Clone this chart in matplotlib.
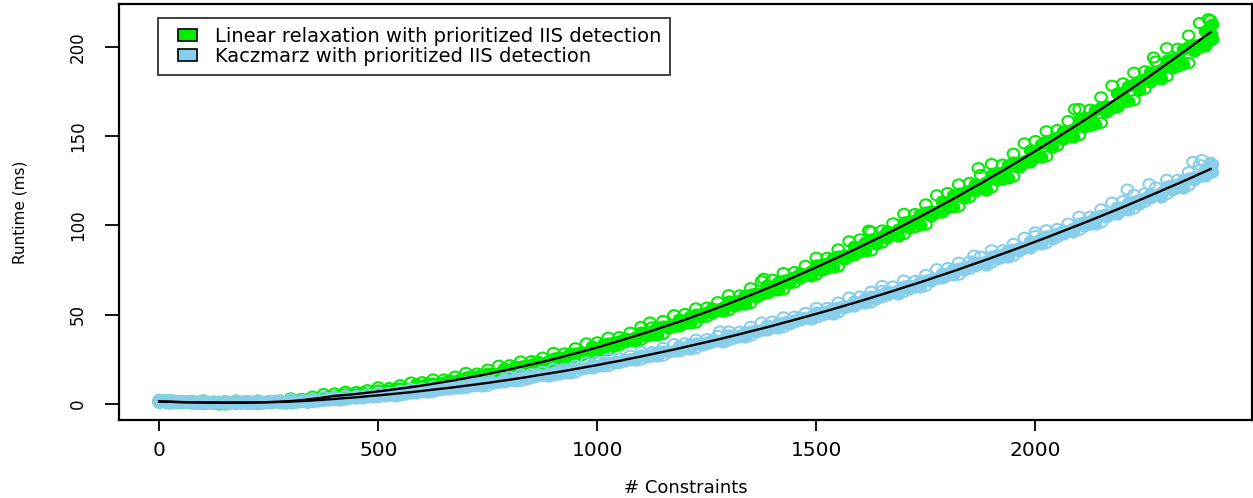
import matplotlib
matplotlib.use("Agg")
import matplotlib.pyplot as plt
from matplotlib.patches import Patch, Rectangle
from matplotlib.legend_handler import HandlerPatch
from matplotlib.path import Path

# constraint counts (step 25) and the in-between counts
constraints = [0, 25, 50, 75, 100, 125, 150, 175, 200, 225, 250, 275, 300, 325, 350, 375,
               400, 425, 450, 475, 500, 525, 550, 575, 600, 625, 650, 675, 700, 725, 750, 775,
               800, 825, 850, 875, 900, 925, 950, 975, 1000, 1025, 1050, 1075, 1100, 1125, 1150, 1175,
               1200, 1225, 1250, 1275, 1300, 1325, 1350, 1375, 1400, 1425, 1450, 1475, 1500, 1525, 1550, 1575,
               1600, 1625, 1650, 1675, 1700, 1725, 1750, 1775, 1800, 1825, 1850, 1875, 1900, 1925, 1950, 1975,
               2000, 2025, 2050, 2075, 2100, 2125, 2150, 2175, 2200, 2225, 2250, 2275, 2300, 2325, 2350, 2375,
               2400]
constraints_b = [12, 37, 62, 87, 112, 137, 162, 187, 212, 237, 262, 287, 312, 337, 362, 387,
                 412, 437, 462, 487, 512, 537, 562, 587, 612, 637, 662, 687, 712, 737, 762, 787,
                 812, 837, 862, 887, 912, 937, 962, 987, 1012, 1037, 1062, 1087, 1112, 1137, 1162, 1187,
                 1212, 1237, 1262, 1287, 1312, 1337, 1362, 1387, 1412, 1437, 1462, 1487, 1512, 1537, 1562, 1587,
                 1612, 1637, 1662, 1687, 1712, 1737, 1762, 1787, 1812, 1837, 1862, 1887, 1912, 1937, 1962, 1987,
                 2012, 2037, 2062, 2087, 2112, 2137, 2162, 2187, 2212, 2237, 2262, 2287, 2312, 2337, 2362, 2387,
                 2404]

# Linear relaxation runtimes (ms), read across the cloud from bottom to top
lr_low = [0.7, 0.2, 0.3, 0.4, -0.1, 0.0, -0.4, 0.1, 0.1, -0.2, 0.3, 0.7, 0.3, 1.0, 1.2, 2.7,
          3.4, 3.2, 4.2, 5.4, 5.1, 6.1, 6.3, 8.1, 8.8, 8.9, 10.6, 12.2, 12.1, 13.6, 13.9, 16.6,
          17.6, 17.9, 20.1, 22.2, 22.2, 24.3, 24.8, 28.2, 29.6, 30.1, 32.9, 35.5, 35.8, 38.2, 39.1, 43.0,
          44.8, 45.5, 48.8, 52.0, 52.4, 55.4, 56.4, 61.1, 63.3, 64.1, 68.0, 71.7, 72.3, 75.7, 76.9, 82.4,
          84.9, 85.8, 90.3, 94.5, 95.1, 99.0, 100.4, 106.7, 109.5, 110.5, 115.8, 120.5, 121.2, 125.6, 127.3, 134.4,
          137.5, 138.6, 144.5, 150.0, 150.5, 155.6, 157.4, 165.3, 168.8, 170.1, 176.5, 182.5, 183.4, 188.9, 190.9, 199.5,
          203.4]
lr_q1 = [0.9, 0.9, 0.8, 0.3, 0.4, 0.1, 0.4, 0.3, 0.2, 0.5, 0.8, 0.6, 1.1, 1.2, 2.4, 2.9,
         3.6, 4.5, 5.2, 5.2, 6.3, 6.5, 8.0, 8.5, 9.2, 10.7, 11.8, 12.0, 13.6, 13.9, 16.1, 17.0,
         18.0, 20.1, 21.7, 21.9, 24.1, 24.7, 27.5, 28.7, 30.1, 32.6, 34.7, 35.2, 37.9, 38.7, 42.2, 43.6,
         45.4, 48.4, 50.9, 51.7, 54.9, 56.0, 59.9, 61.8, 63.9, 67.5, 70.4, 71.4, 75.1, 76.4, 81.0, 83.1,
         85.6, 89.7, 93.1, 94.1, 98.4, 99.9, 105.2, 107.6, 110.4, 115.1, 119.1, 120.0, 125.1, 126.6, 132.7, 135.4,
         138.5, 143.8, 148.2, 149.4, 154.8, 156.6, 163.5, 166.4, 169.9, 175.8, 180.5, 181.9, 188.1, 190.1, 197.4, 200.7,
         204.6]
lr_mid = [1.2, 1.3, 0.9, 0.6, 1.0, 0.6, 0.7, 0.3, 0.5, 1.0, 0.9, 0.9, 1.9, 1.9, 2.9, 3.0,
          4.1, 5.3, 5.5, 5.8, 7.5, 7.5, 8.8, 8.6, 9.9, 11.7, 12.2, 12.7, 15.2, 15.3, 17.1, 17.2,
          18.9, 21.3, 22.1, 22.8, 25.9, 26.4, 28.7, 28.9, 31.1, 34.2, 35.2, 36.3, 40.1, 40.6, 43.6, 43.9,
          46.5, 50.2, 51.5, 52.9, 57.3, 58.2, 61.5, 62.1, 65.2, 69.5, 71.1, 72.8, 77.9, 78.9, 82.8, 83.5,
          87.1, 92.1, 93.9, 95.8, 101.8, 102.9, 107.4, 108.0, 112.2, 117.9, 120.0, 122.0, 128.9, 130.0, 135.2, 135.9,
          140.6, 147.0, 149.2, 151.5, 159.2, 160.5, 166.2, 167.0, 172.2, 179.2, 181.7, 184.3, 192.7, 194.2, 200.4, 201.3,
          207.0]
lr_q3 = [1.9, 1.4, 1.4, 0.9, 1.1, 1.1, 0.8, 1.2, 1.2, 1.0, 1.4, 1.2, 2.0, 2.7, 3.0, 4.6,
         5.4, 5.4, 6.5, 6.5, 7.7, 8.8, 9.0, 10.8, 11.6, 11.9, 13.5, 13.7, 15.4, 16.9, 17.3, 19.8,
         21.0, 21.6, 23.7, 23.9, 26.2, 28.2, 28.9, 32.1, 33.6, 34.4, 37.0, 37.6, 40.4, 42.8, 43.8, 47.6,
         49.4, 50.5, 53.6, 54.4, 57.7, 60.7, 61.9, 66.3, 68.5, 69.9, 73.5, 74.5, 78.3, 81.8, 83.2, 88.4,
         90.9, 92.5, 96.7, 97.8, 102.2, 106.3, 107.8, 113.8, 116.7, 118.3, 123.3, 124.4, 129.4, 133.9, 135.7, 142.4,
         145.7, 147.5, 152.9, 154.2, 159.7, 164.8, 166.8, 174.2, 177.8, 179.8, 185.7, 187.2, 193.3, 198.9, 200.9, 209.1,
         213.0]
lr_high = [2.1, 2.1, 1.5, 1.5, 1.8, 1.1, 1.4, 1.7, 1.4, 1.7, 1.5, 1.8, 3.0, 2.7, 4.0, 5.4,
           5.8, 6.7, 6.6, 7.6, 9.2, 8.8, 10.4, 11.9, 12.1, 13.6, 13.6, 15.2, 17.3, 16.9, 19.1, 21.3,
           21.6, 23.7, 23.9, 25.8, 28.5, 28.2, 31.1, 33.8, 34.4, 37.0, 37.3, 39.8, 43.1, 42.8, 46.4, 49.6,
           50.3, 53.4, 53.9, 56.9, 60.8, 60.7, 64.7, 68.6, 69.5, 73.2, 73.8, 77.3, 81.8, 81.8, 86.5, 91.0,
           92.1, 96.4, 97.1, 101.1, 106.4, 106.3, 111.7, 116.8, 118.1, 122.9, 123.8, 128.2, 134.3, 134.0, 140.1, 145.9,
           147.2, 152.7, 153.4, 158.4, 165.1, 164.8, 171.7, 178.2, 179.5, 185.5, 186.3, 191.8, 199.2, 198.9, 206.3, 213.3,
           214.8]
lr_fit = [1.3, 1.1, 0.9, 0.8, 0.7, 0.65, 0.6, 0.6, 0.65, 0.75, 0.9, 1.1, 1.5, 2.0, 2.7, 3.5,
          4.4, 4.9, 5.5, 6.2, 6.9, 7.7, 8.5, 9.3, 10.2, 11.2, 12.2, 13.3, 14.4, 15.5, 16.7, 18.0,
          19.3, 20.7, 22.1, 23.5, 25.0, 26.6, 28.2, 29.9, 31.6, 33.4, 35.2, 37.1, 39.0, 40.9, 43.0, 45.0,
          47.1, 49.3, 51.5, 53.8, 56.1, 58.5, 60.9, 63.4, 65.9, 68.5, 71.1, 73.8, 76.5, 79.3, 82.1, 85.0,
          87.9, 90.9, 93.9, 97.0, 100.1, 103.3, 106.5, 109.8, 113.1, 116.5, 120.0, 123.4, 127.0, 130.5, 134.2, 137.9,
          141.6, 145.4, 149.2, 153.1, 157.0, 161.0, 165.1, 169.2, 173.3, 177.5, 181.7, 186.0, 190.4, 194.8, 199.2, 203.7,
          208.2]

# Kaczmarz runtimes (ms)
kz_low = [0.9, 0.3, 0.5, 0.6, 0.1, 0.1, -0.2, 0.3, 0.3, 0.0, 0.4, 0.8, 0.5, 0.9, 0.8, 1.8,
          2.2, 2.2, 2.9, 3.8, 3.7, 4.5, 4.6, 5.9, 6.5, 6.6, 7.8, 8.8, 8.8, 9.9, 10.1, 11.9,
          12.7, 12.8, 14.3, 15.8, 15.8, 17.2, 17.6, 19.8, 20.8, 21.1, 22.8, 24.6, 24.8, 26.4, 26.9, 29.5,
          30.7, 31.1, 33.2, 35.2, 35.5, 37.4, 38.1, 41.1, 42.4, 43.0, 45.5, 47.8, 48.2, 50.3, 51.1, 54.5,
          56.1, 56.8, 59.6, 62.2, 62.7, 65.1, 66.0, 69.9, 71.6, 72.3, 75.6, 78.5, 79.0, 81.8, 82.9, 87.0,
          89.1, 90.0, 93.4, 96.7, 97.3, 100.3, 101.5, 106.1, 108.3, 109.4, 113.2, 116.7, 117.5, 120.7, 122.2, 127.2,
          129.5]
kz_q1 = [1.0, 1.0, 0.9, 0.4, 0.5, 0.2, 0.5, 0.4, 0.4, 0.7, 0.8, 0.6, 1.0, 0.9, 1.7, 1.9,
         2.3, 3.0, 3.5, 3.6, 4.4, 4.6, 5.7, 6.1, 6.6, 7.7, 8.5, 8.6, 9.7, 10.0, 11.4, 12.0,
         12.8, 14.1, 15.3, 15.5, 16.9, 17.3, 19.2, 20.0, 20.9, 22.6, 23.8, 24.3, 26.0, 26.6, 28.8, 29.7,
         30.9, 32.8, 34.4, 34.8, 36.9, 37.6, 40.2, 41.3, 42.6, 44.9, 46.8, 47.4, 49.7, 50.5, 53.5, 54.8,
         56.3, 58.9, 61.1, 61.7, 64.4, 65.3, 68.6, 70.2, 71.9, 74.8, 77.3, 78.0, 80.9, 82.0, 85.6, 87.4,
         89.4, 92.5, 95.2, 96.1, 99.4, 100.6, 104.6, 106.5, 108.7, 112.2, 115.1, 116.1, 119.7, 121.0, 125.4, 127.5,
         129.9]
kz_mid = [1.2, 1.3, 1.0, 0.6, 1.0, 0.6, 0.8, 0.4, 0.6, 1.0, 0.9, 0.8, 1.6, 1.4, 2.0, 1.9,
          2.5, 3.5, 3.6, 3.9, 5.1, 5.2, 6.1, 6.1, 7.0, 8.3, 8.6, 8.9, 10.6, 10.8, 12.0, 12.0,
          13.2, 14.8, 15.4, 15.9, 18.0, 18.2, 19.8, 20.0, 21.4, 23.4, 24.0, 24.8, 27.2, 27.6, 29.5, 29.7,
          31.4, 33.8, 34.6, 35.4, 38.3, 38.8, 41.0, 41.3, 43.3, 46.0, 47.0, 48.0, 51.3, 51.9, 54.4, 54.8,
          57.0, 60.1, 61.3, 62.5, 66.2, 66.8, 69.6, 70.2, 72.7, 76.1, 77.5, 78.8, 82.9, 83.7, 86.8, 87.4,
          90.2, 94.0, 95.5, 97.0, 101.5, 102.4, 105.8, 106.5, 109.6, 113.7, 115.4, 117.1, 122.0, 123.0, 126.6, 127.5,
          130.9]
kz_q3 = [1.9, 1.4, 1.4, 1.0, 1.1, 1.2, 0.9, 1.3, 1.3, 1.1, 1.4, 1.2, 1.7, 2.1, 2.1, 3.1,
         3.4, 3.6, 4.3, 4.4, 5.2, 6.0, 6.2, 7.5, 8.1, 8.4, 9.4, 9.5, 10.8, 11.8, 12.1, 13.9,
         14.6, 15.0, 16.5, 16.7, 18.2, 19.5, 20.0, 22.0, 23.0, 23.6, 25.2, 25.6, 27.4, 29.0, 29.6, 32.1,
         33.3, 33.9, 35.9, 36.4, 38.5, 40.4, 41.2, 44.0, 45.4, 46.3, 48.5, 49.1, 51.5, 53.7, 54.6, 57.8,
         59.4, 60.4, 63.0, 63.7, 66.5, 68.9, 69.9, 73.5, 75.3, 76.4, 79.4, 80.1, 83.2, 86.0, 87.0, 91.1,
         93.1, 94.3, 97.6, 98.5, 101.8, 104.8, 106.1, 110.5, 112.7, 114.0, 117.6, 118.6, 122.3, 125.5, 127.0, 131.7,
         134.1]
kz_high = [2.1, 2.1, 1.5, 1.6, 1.8, 1.2, 1.5, 1.8, 1.5, 1.8, 1.5, 1.8, 2.5, 2.1, 2.9, 3.7,
           3.7, 4.5, 4.4, 5.2, 6.2, 6.0, 7.2, 8.3, 8.5, 9.6, 9.6, 10.6, 12.1, 11.8, 13.3, 14.8,
           15.0, 16.4, 16.6, 17.9, 19.7, 19.5, 21.4, 23.2, 23.5, 25.2, 25.4, 27.0, 29.1, 29.0, 31.3, 33.4,
           33.9, 35.9, 36.2, 38.0, 40.5, 40.4, 43.1, 45.5, 46.1, 48.4, 48.8, 50.9, 53.7, 53.7, 56.7, 59.5,
           60.1, 62.8, 63.3, 65.7, 69.0, 68.9, 72.2, 75.4, 76.1, 79.1, 79.7, 82.4, 86.0, 86.0, 89.6, 93.0,
           94.0, 97.2, 97.9, 100.9, 104.8, 104.8, 108.9, 112.7, 113.6, 117.1, 117.9, 121.2, 125.5, 125.5, 129.8, 133.9,
           135.0]
kz_fit = [1.3, 1.1, 0.95, 0.85, 0.75, 0.7, 0.65, 0.65, 0.7, 0.8, 0.9, 1.05, 1.25, 1.5, 1.85, 2.25,
          2.7, 3.2, 3.6, 4.2, 4.7, 5.3, 5.9, 6.5, 7.2, 7.9, 8.6, 9.3, 10.1, 10.9, 11.7, 12.6,
          13.5, 14.4, 15.4, 16.4, 17.4, 18.4, 19.5, 20.6, 21.7, 22.9, 24.0, 25.3, 26.5, 27.8, 29.1, 30.4,
          31.8, 33.2, 34.6, 36.0, 37.5, 39.0, 40.6, 42.1, 43.7, 45.4, 47.0, 48.7, 50.4, 52.1, 53.9, 55.7,
          57.5, 59.4, 61.3, 63.2, 65.2, 67.1, 69.1, 71.2, 73.2, 75.3, 77.5, 79.6, 81.8, 84.0, 86.2, 88.5,
          90.8, 93.1, 95.5, 97.9, 100.3, 102.7, 105.2, 107.7, 110.2, 112.8, 115.4, 118.0, 120.7, 123.3, 126.0, 128.8,
          131.5]

# a few isolated runs sitting above the clouds
lr_out_x = [1120, 1380, 1620, 1870, 2090, 2270, 2395]
lr_out_y = [45.5, 70.0, 97.0, 132.0, 165.0, 194.0, 215.5]
kz_out_x = [1280, 1650, 1860, 2000, 2210, 2260, 2360, 2380]
kz_out_y = [40.5, 66.0, 83.0, 96.0, 120.0, 123.0, 135.5, 136.5]

labels = ["Linear relaxation with prioritized IIS detection",
          "Kaczmarz with prioritized IIS detection"]
col_lr = "#00ee00"
col_kz = "#87ceeb"

plt.rcParams['font.family'] = ['DejaVu Sans']

# the original picture is stretched sideways, so circles come out slightly flat
circ = Path.unit_circle()
ring = Path(circ.vertices * [1.15, 1.0], circ.codes)


class SquareRight(HandlerPatch):
    # R-style legend box: small square pushed to the right part of the handle area
    def create_artists(self, legend, orig_handle, xdescent, ydescent, width, height, fontsize, trans):
        w = 13.7
        p = Rectangle((width - w - xdescent, -ydescent), w, height,
                      facecolor=orig_handle.get_facecolor(), edgecolor='black', lw=1.2, transform=trans)
        return [p]


fig = plt.figure(figsize=(12.53, 4.98), dpi=100)
ax = fig.add_axes([0.095, 0.157, 0.904, 0.835])

# dense core of the cloud looks solid, the edges show single open circles
edge = dict(s=70, marker=ring, facecolors='none', linewidths=1.5)
core = dict(s=70, marker=ring, linewidths=1.5)
ax.scatter(constraints_b, lr_q1, color=col_lr, **core)
ax.scatter(constraints, lr_mid, color=col_lr, **core)
ax.scatter(constraints_b, lr_q3, color=col_lr, **core)
ax.scatter(constraints, lr_low, edgecolors=col_lr, **edge)
ax.scatter(constraints, lr_high, edgecolors=col_lr, **edge)
ax.scatter(lr_out_x, lr_out_y, edgecolors=col_lr, **edge)
ax.scatter(constraints_b, kz_q1, color=col_kz, **core)
ax.scatter(constraints, kz_mid, color=col_kz, **core)
ax.scatter(constraints_b, kz_q3, color=col_kz, **core)
ax.scatter(constraints, kz_low, edgecolors=col_kz, **edge)
ax.scatter(constraints, kz_high, edgecolors=col_kz, **edge)
ax.scatter(kz_out_x, kz_out_y, edgecolors=col_kz, **edge)

ax.plot(constraints, lr_fit, color='black', lw=1.7)
ax.plot(constraints, kz_fit, color='black', lw=1.7)

ax.set_xlim(-92, 2494)
ax.set_ylim(-9, 224)
ax.set_xticks([0, 500, 1000, 1500, 2000])
ax.set_yticks([0, 50, 100, 150, 200])
ax.tick_params(axis='x', direction='out', length=8, width=1.3, labelsize=14.5, pad=7)
ax.tick_params(axis='y', direction='out', length=10, width=1.3, labelsize=12, pad=13)
plt.setp(ax.get_yticklabels(), rotation=90, va='center')
for sp in ax.spines.values():
    sp.set_linewidth(1.6)

ax.set_xlabel("# Constraints", fontsize=13)
ax.set_ylabel("Runtime (ms)", fontsize=11)
ax.xaxis.set_label_coords(0.5, -0.163)
ax.xaxis.label.set_va('center')
ax.yaxis.set_label_coords(-0.087, 0.5)
ax.yaxis.label.set_va('center')

handles = [Patch(facecolor=col_lr, edgecolor='black'), Patch(facecolor=col_kz, edgecolor='black')]
leg = ax.legend(handles, labels, loc='upper left', bbox_to_anchor=(0.0344, 0.966), borderaxespad=0,
                fontsize=14, frameon=True, fancybox=False, borderpad=0.45,
                handlelength=1.56, handleheight=0.6, handletextpad=0.93, labelspacing=0.05,
                handler_map={Patch: SquareRight()})
leg.get_frame().set_edgecolor('black')
leg.get_frame().set_linewidth(1.3)

fig.savefig("out.png", dpi=100)
